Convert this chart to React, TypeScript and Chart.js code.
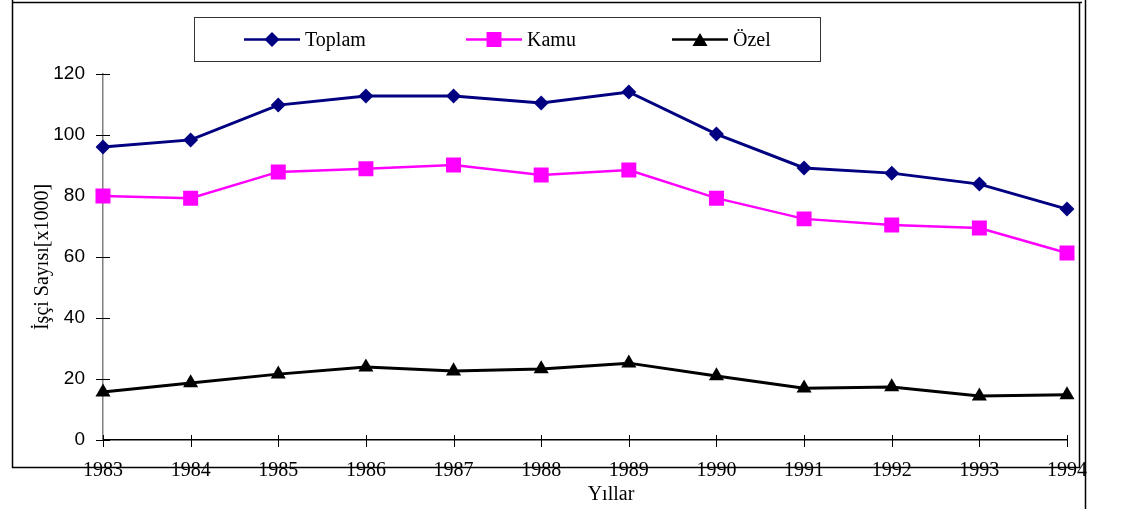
import React, { useEffect, useRef } from 'react';
import { Chart, registerables } from 'chart.js';

Chart.register(...registerables);

const years = ['1983', '1984', '1985', '1986', '1987', '1988', '1989', '1990', '1991', '1992', '1993', '1994'];
const toplam = [96.1, 98.4, 109.8, 112.8, 112.8, 110.5, 114.1, 100.3, 89.2, 87.5, 83.9, 75.7];
const kamu = [80.0, 79.3, 87.9, 88.9, 90.2, 86.9, 88.5, 79.3, 72.5, 70.5, 69.5, 61.3];
const ozel = [15.7, 18.7, 21.6, 23.9, 22.6, 23.3, 25.2, 21.0, 17.0, 17.4, 14.4, 14.8];
const seriesNames = ['Toplam', 'Kamu', 'Özel'];
const seriesColors = ['#000080', '#FF00FF', '#000000'];
const seriesMarkers = ['rectRot', 'rect', 'triangle'];
const markerRadius = [7.5, 10.6, 8.7];
const lineWidths = [3, 2.5, 3];
const yMin = 0;
const yMax = 120;
const yStep = 20;
const xTitle = 'Yıllar';
const yTitle = 'İşçi Sayısı[x1000]';

const SERIF = '"Liberation Serif", "Times New Roman", serif';
const SANS = '"Liberation Sans", Arial, sans-serif';

function drawMarker(ctx: CanvasRenderingContext2D, style: string, x: number, y: number, r: number, color: string) {
  ctx.save();
  ctx.fillStyle = color;
  ctx.beginPath();
  if (style === 'rectRot') {
    ctx.moveTo(x, y - r);
    ctx.lineTo(x + r, y);
    ctx.lineTo(x, y + r);
    ctx.lineTo(x - r, y);
  } else if (style === 'rect') {
    const s = Math.SQRT1_2 * r;
    ctx.rect(x - s, y - s, 2 * s, 2 * s);
  } else {
    const h = r * 1.5;
    const w = r * Math.sqrt(3);
    ctx.moveTo(x, y - h / 2);
    ctx.lineTo(x + w / 2, y + h / 2);
    ctx.lineTo(x - w / 2, y + h / 2);
  }
  ctx.closePath();
  ctx.fill();
  ctx.restore();
}

const framePlugin = {
  id: 'frame',
  beforeDraw(chart: any) {
    const ctx: CanvasRenderingContext2D = chart.ctx;
    ctx.save();
    ctx.fillStyle = '#ffffff';
    ctx.fillRect(0, 0, chart.width, chart.height);
    ctx.strokeStyle = '#000000';
    ctx.lineWidth = 1.5;
    ctx.beginPath();
    ctx.moveTo(12.5, 0);
    ctx.lineTo(12.5, 468);
    ctx.moveTo(12, 2.5);
    ctx.lineTo(1082, 2.5);
    ctx.moveTo(1079.5, 2);
    ctx.lineTo(1079.5, 468);
    ctx.moveTo(12, 467.5);
    ctx.lineTo(1080, 467.5);
    ctx.moveTo(1085.5, 0);
    ctx.lineTo(1085.5, chart.height);
    ctx.stroke();
    ctx.restore();
  },
  beforeDatasetsDraw(chart: any) {
    const ctx: CanvasRenderingContext2D = chart.ctx;
    const xs = chart.scales.x;
    const ys = chart.scales.y;
    const { left, bottom } = chart.chartArea;
    ctx.save();
    ctx.strokeStyle = '#000000';
    ctx.lineWidth = 1;
    ctx.beginPath();
    ys.ticks.forEach((t: any) => {
      const y = Math.round(ys.getPixelForValue(t.value)) + 0.5;
      ctx.moveTo(left - 7, y);
      ctx.lineTo(left + 7, y);
    });
    xs.ticks.forEach((_t: any, i: number) => {
      const x = Math.round(xs.getPixelForTick(i)) + 0.5;
      ctx.moveTo(x, bottom - 5);
      ctx.lineTo(x, bottom + 7);
    });
    ctx.stroke();
    ctx.restore();
  },
  afterDraw(chart: any) {
    const ctx: CanvasRenderingContext2D = chart.ctx;
    ctx.save();
    // x title
    ctx.fillStyle = '#000000';
    ctx.font = `20px ${SERIF}`;
    ctx.textAlign = 'center';
    ctx.textBaseline = 'middle';
    ctx.fillText(xTitle, 611, 495);

    // legend
    ctx.strokeStyle = '#333333';
    ctx.lineWidth = 1;
    ctx.strokeRect(194.5, 17.5, 626, 44);
    const itemX = [244, 466, 672];
    const cy = 39.5;
    chart.data.datasets.forEach((ds: any, i: number) => {
      const x0 = itemX[i];
      ctx.strokeStyle = ds.borderColor;
      ctx.lineWidth = 2.5;
      ctx.beginPath();
      ctx.moveTo(x0, cy);
      ctx.lineTo(x0 + 56, cy);
      ctx.stroke();
      drawMarker(ctx, ds.pointStyle, x0 + 28, cy, ds.pointRadius, ds.backgroundColor);
      ctx.fillStyle = '#000000';
      ctx.font = `20px ${SERIF}`;
      ctx.textAlign = 'left';
      ctx.textBaseline = 'middle';
      ctx.fillText(ds.label, x0 + 61, cy + 1);
    });
    ctx.restore();
  },
};

export default function App() {
  const ref = useRef<HTMLCanvasElement | null>(null);
  useEffect(() => {
    if (!ref.current) return;
    const seriesValues = [toplam, kamu, ozel];
    const chart = new Chart(ref.current, {
      type: 'line',
      data: {
        labels: years,
        datasets: seriesValues.map((vals, i) => ({
          label: seriesNames[i],
          data: vals,
          borderColor: seriesColors[i],
          backgroundColor: seriesColors[i],
          borderWidth: lineWidths[i],
          pointStyle: seriesMarkers[i] as any,
          pointRadius: markerRadius[i],
          pointBorderWidth: 0,
          pointBackgroundColor: seriesColors[i],
          tension: 0,
          fill: false,
        })),
      },
      options: {
        animation: false,
        responsive: false,
        devicePixelRatio: 1,
        layout: { padding: { left: 0, top: 74, right: 57, bottom: 0 } },
        plugins: {
          legend: { display: false },
          tooltip: { enabled: false },
          title: { display: false },
        },
        scales: {
          x: {
            type: 'category',
            offset: false,
            afterFit: (s: any) => { s.height = 69; },
            grid: { display: true, drawOnChartArea: false, drawTicks: false },
            border: { display: true, color: '#000000', width: 1.5 },
            ticks: {
              color: '#000000',
              font: { family: SERIF, size: 20 },
              padding: 19,
              maxRotation: 0,
              autoSkip: false,
            },
          },
          y: {
            min: yMin,
            max: yMax,
            afterFit: (s: any) => { s.width = 103; },
            grid: { display: true, drawOnChartArea: false, drawTicks: false },
            border: { display: true, color: '#808080', width: 1.5 },
            ticks: {
              stepSize: yStep,
              color: '#000000',
              font: { family: SANS, size: 19 },
              padding: 18,
            },
            title: {
              display: true,
              text: yTitle,
              color: '#000000',
              font: { family: SERIF, size: 20 },
              padding: { top: 31, bottom: 0 },
            },
          },
        },
      },
      plugins: [framePlugin],
    });
    return () => chart.destroy();
  }, []);
  return (
    <div style={{ position: 'absolute', left: 0, top: 0, width: 1124, height: 509 }}>
      <canvas ref={ref} width={1124} height={509} style={{ display: 'block' }} />
    </div>
  );
}
